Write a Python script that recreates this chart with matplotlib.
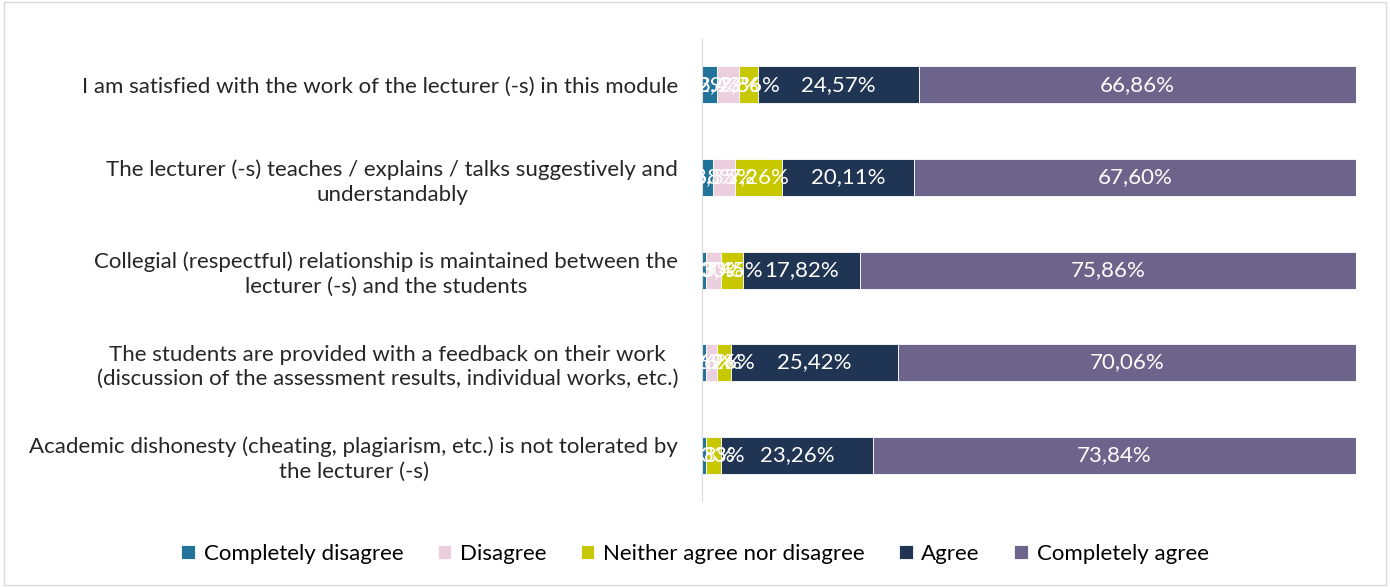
import matplotlib.pyplot as plt
import numpy as np

plt.rcParams['font.family'] = ['Lato', 'DejaVu Sans']

statements = [
    "I am satisfied with the work of the lecturer (-s) in this module",
    "The lecturer (-s) teaches / explains / talks suggestively and\nunderstandably",
    "Collegial (respectful) relationship is maintained between the\nlecturer (-s) and the students",
    "The students are provided with a feedback on their work\n(discussion of the assessment results, individual works, etc.)",
    "Academic dishonesty (cheating, plagiarism, etc.) is not tolerated by\nthe lecturer (-s)",
]
answers = ["Completely disagree", "Disagree", "Neither agree nor disagree",
           "Agree", "Completely agree"]
completely_disagree = [2.29, 1.68, 0.57, 0.56, 0.58]
disagree = [3.43, 3.35, 2.30, 1.69, 0.00]
neither = [2.86, 7.26, 3.45, 2.26, 2.33]
agree = [24.57, 20.11, 17.82, 25.42, 23.26]
completely_agree = [66.86, 67.60, 75.86, 70.06, 73.84]

colors = ["#21739A", "#ECCFDF", "#C8C800", "#1F3553", "#6D648B"]

series = [completely_disagree, disagree, neither, agree, completely_agree]

fig = plt.figure(figsize=(13.9, 5.87), dpi=100)
ax = fig.add_axes([0.505, 0.146, 0.4705, 0.788])

y = np.arange(len(statements))
left = np.zeros(len(statements))
for vals, name, col in zip(series, answers, colors):
    vals = np.array(vals)
    ax.barh(y, vals, left=left, height=0.4, color=col, label=name,
            edgecolor="white", linewidth=0.6)
    for yi, l, v in zip(y, left, vals):
        if v > 0:
            ax.text(l + v / 2, yi, f"{v:.2f}%".replace(".", ","),
                    ha="center", va="center", color="white", fontsize=16)
    left += vals

ax.set_xlim(0, 100)
ax.set_ylim(len(statements) - 0.5, -0.5)
ax.set_yticks(y)
ax.set_yticklabels(statements, fontsize=16, ha="right", color="#262626",
                   multialignment="center", linespacing=1.3)
ax.tick_params(axis="y", length=0, pad=17)
ax.set_xticks([])
for s in ["top", "right", "bottom"]:
    ax.spines[s].set_visible(False)
ax.spines["left"].set_color("#d9d9d9")

fig.legend(loc="lower center", bbox_to_anchor=(0.5, 0.005), ncol=5,
           frameon=False, fontsize=16, handlelength=0.6, handleheight=0.6,
           columnspacing=1.55, handletextpad=0.4)

border = plt.Rectangle((0.003, 0.003), 0.994, 0.994, transform=fig.transFigure,
                       fill=False, edgecolor="#d9d9d9", linewidth=1)
fig.patches.append(border)

fig.savefig("out.png", dpi=100)
